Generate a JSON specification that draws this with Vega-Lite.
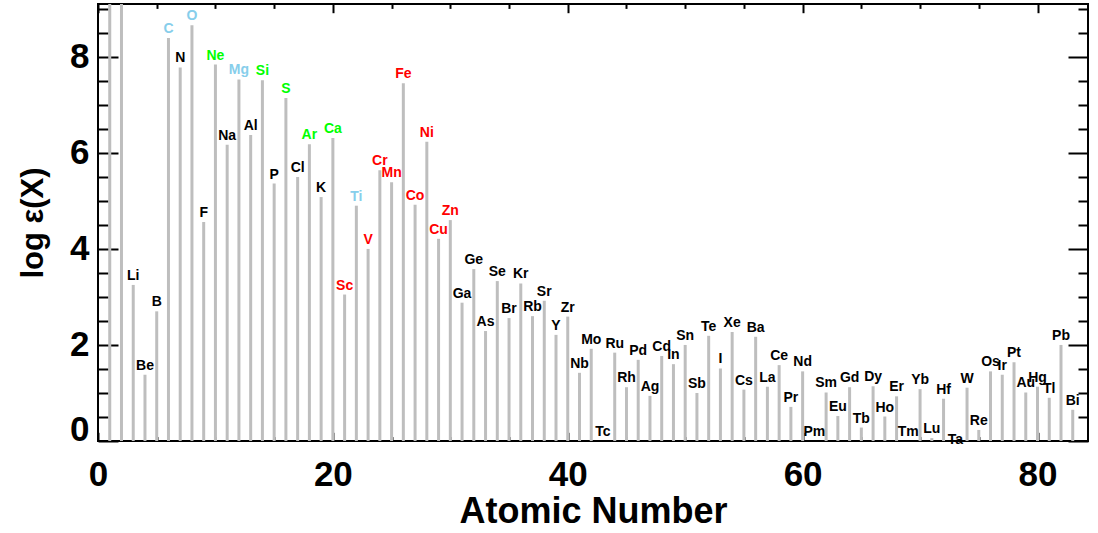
{
  "$schema": "https://vega.github.io/schema/vega-lite/v6.json",
  "width": 990,
  "height": 437,
  "autosize": {"type": "none"},
  "padding": {"left": 98, "top": 4, "right": 10, "bottom": 92},
  "background": "white",
  "config": {
    "view": {"stroke": "black", "strokeWidth": 2},
    "font": "Liberation Sans",
    "axis": {
      "domain": false,
      "grid": false,
      "tickColor": "black",
      "tickWidth": 2,
      "labelFont": "Liberation Sans",
      "labelFontWeight": "bold",
      "labelFontSize": 35,
      "labelColor": "black",
      "titleFont": "Liberation Sans",
      "titleFontWeight": "bold",
      "titleColor": "black"
    }
  },
  "data": {
    "values": [
      {"Z": 1, "el": "H", "logeps": 12.00, "set": "none"},
      {"Z": 2, "el": "He", "logeps": 10.93, "set": "none"},
      {"Z": 3, "el": "Li", "logeps": 3.25, "set": "none"},
      {"Z": 4, "el": "Be", "logeps": 1.38, "set": "none"},
      {"Z": 5, "el": "B", "logeps": 2.70, "set": "none"},
      {"Z": 6, "el": "C", "logeps": 8.39, "set": "a"},
      {"Z": 7, "el": "N", "logeps": 7.78, "set": "none"},
      {"Z": 8, "el": "O", "logeps": 8.66, "set": "a"},
      {"Z": 9, "el": "F", "logeps": 4.56, "set": "none"},
      {"Z": 10, "el": "Ne", "logeps": 7.84, "set": "b"},
      {"Z": 11, "el": "Na", "logeps": 6.17, "set": "none"},
      {"Z": 12, "el": "Mg", "logeps": 7.53, "set": "a"},
      {"Z": 13, "el": "Al", "logeps": 6.37, "set": "none"},
      {"Z": 14, "el": "Si", "logeps": 7.51, "set": "b"},
      {"Z": 15, "el": "P", "logeps": 5.36, "set": "none"},
      {"Z": 16, "el": "S", "logeps": 7.14, "set": "b"},
      {"Z": 17, "el": "Cl", "logeps": 5.50, "set": "none"},
      {"Z": 18, "el": "Ar", "logeps": 6.18, "set": "b"},
      {"Z": 19, "el": "K", "logeps": 5.08, "set": "none"},
      {"Z": 20, "el": "Ca", "logeps": 6.31, "set": "b"},
      {"Z": 21, "el": "Sc", "logeps": 3.05, "set": "fe"},
      {"Z": 22, "el": "Ti", "logeps": 4.90, "set": "a"},
      {"Z": 23, "el": "V", "logeps": 4.00, "set": "fe"},
      {"Z": 24, "el": "Cr", "logeps": 5.64, "set": "fe"},
      {"Z": 25, "el": "Mn", "logeps": 5.39, "set": "fe"},
      {"Z": 26, "el": "Fe", "logeps": 7.45, "set": "fe"},
      {"Z": 27, "el": "Co", "logeps": 4.92, "set": "fe"},
      {"Z": 28, "el": "Ni", "logeps": 6.23, "set": "fe"},
      {"Z": 29, "el": "Cu", "logeps": 4.21, "set": "fe"},
      {"Z": 30, "el": "Zn", "logeps": 4.60, "set": "fe"},
      {"Z": 31, "el": "Ga", "logeps": 2.88, "set": "none"},
      {"Z": 32, "el": "Ge", "logeps": 3.58, "set": "none"},
      {"Z": 33, "el": "As", "logeps": 2.29, "set": "none"},
      {"Z": 34, "el": "Se", "logeps": 3.33, "set": "none"},
      {"Z": 35, "el": "Br", "logeps": 2.56, "set": "none"},
      {"Z": 36, "el": "Kr", "logeps": 3.28, "set": "none"},
      {"Z": 37, "el": "Rb", "logeps": 2.60, "set": "none"},
      {"Z": 38, "el": "Sr", "logeps": 2.92, "set": "none"},
      {"Z": 39, "el": "Y", "logeps": 2.21, "set": "none"},
      {"Z": 40, "el": "Zr", "logeps": 2.59, "set": "none"},
      {"Z": 41, "el": "Nb", "logeps": 1.42, "set": "none"},
      {"Z": 42, "el": "Mo", "logeps": 1.92, "set": "none"},
      {"Z": 43, "el": "Tc", "logeps": 0.00, "set": "none"},
      {"Z": 44, "el": "Ru", "logeps": 1.84, "set": "none"},
      {"Z": 45, "el": "Rh", "logeps": 1.12, "set": "none"},
      {"Z": 46, "el": "Pd", "logeps": 1.69, "set": "none"},
      {"Z": 47, "el": "Ag", "logeps": 0.94, "set": "none"},
      {"Z": 48, "el": "Cd", "logeps": 1.77, "set": "none"},
      {"Z": 49, "el": "In", "logeps": 1.60, "set": "none"},
      {"Z": 50, "el": "Sn", "logeps": 2.00, "set": "none"},
      {"Z": 51, "el": "Sb", "logeps": 1.00, "set": "none"},
      {"Z": 52, "el": "Te", "logeps": 2.19, "set": "none"},
      {"Z": 53, "el": "I", "logeps": 1.51, "set": "none"},
      {"Z": 54, "el": "Xe", "logeps": 2.27, "set": "none"},
      {"Z": 55, "el": "Cs", "logeps": 1.07, "set": "none"},
      {"Z": 56, "el": "Ba", "logeps": 2.17, "set": "none"},
      {"Z": 57, "el": "La", "logeps": 1.13, "set": "none"},
      {"Z": 58, "el": "Ce", "logeps": 1.58, "set": "none"},
      {"Z": 59, "el": "Pr", "logeps": 0.71, "set": "none"},
      {"Z": 60, "el": "Nd", "logeps": 1.45, "set": "none"},
      {"Z": 61, "el": "Pm", "logeps": 0.00, "set": "none"},
      {"Z": 62, "el": "Sm", "logeps": 1.01, "set": "none"},
      {"Z": 63, "el": "Eu", "logeps": 0.52, "set": "none"},
      {"Z": 64, "el": "Gd", "logeps": 1.12, "set": "none"},
      {"Z": 65, "el": "Tb", "logeps": 0.28, "set": "none"},
      {"Z": 66, "el": "Dy", "logeps": 1.14, "set": "none"},
      {"Z": 67, "el": "Ho", "logeps": 0.51, "set": "none"},
      {"Z": 68, "el": "Er", "logeps": 0.93, "set": "none"},
      {"Z": 69, "el": "Tm", "logeps": 0.00, "set": "none"},
      {"Z": 70, "el": "Yb", "logeps": 1.08, "set": "none"},
      {"Z": 71, "el": "Lu", "logeps": 0.06, "set": "none"},
      {"Z": 72, "el": "Hf", "logeps": 0.88, "set": "none"},
      {"Z": 73, "el": "Ta", "logeps": -0.17, "set": "none"},
      {"Z": 74, "el": "W", "logeps": 1.11, "set": "none"},
      {"Z": 75, "el": "Re", "logeps": 0.23, "set": "none"},
      {"Z": 76, "el": "Os", "logeps": 1.45, "set": "none"},
      {"Z": 77, "el": "Ir", "logeps": 1.38, "set": "none"},
      {"Z": 78, "el": "Pt", "logeps": 1.64, "set": "none"},
      {"Z": 79, "el": "Au", "logeps": 1.01, "set": "none"},
      {"Z": 80, "el": "Hg", "logeps": 1.13, "set": "none"},
      {"Z": 81, "el": "Tl", "logeps": 0.90, "set": "none"},
      {"Z": 82, "el": "Pb", "logeps": 2.00, "set": "none"},
      {"Z": 83, "el": "Bi", "logeps": 0.65, "set": "none"}
    ]
  },
  "resolve": {"axis": {"x": "independent", "y": "independent"}},
  "layer": [
    {
      "mark": {"type": "rule", "clip": true, "color": "#bebebe", "strokeWidth": 3},
      "encoding": {
        "x": {
          "field": "Z", "type": "quantitative",
          "scale": {"domain": [0, 84.3], "nice": false, "zero": false},
          "axis": {"orient": "bottom", "values": [0, 20, 40, 60, 80], "tickSize": -8.7,
                   "labelPadding": 24.7, "labelFlush": false, "labelOverlap": false,
                   "title": "Atomic Number", "titleFontSize": 36, "titlePadding": 2}
        },
        "y": {
          "field": "logeps", "type": "quantitative",
          "scale": {"domain": [0, 9.1], "nice": false, "zero": false},
          "axis": {"orient": "left", "values": [0, 2, 4, 6, 8], "tickSize": -20,
                   "labelPadding": 29, "labelFlush": true, "labelFlushOffset": 6, "labelOverlap": false,
                   "title": "log ε(X)", "titleFontSize": 31, "titlePadding": 20}
        },
        "y2": {"datum": 0}
      }
    },
    {
      "transform": [{"filter": "datum.logeps < 9.1"}],
      "mark": {"type": "text", "fontSize": 14, "fontWeight": "bold", "font": "Liberation Sans",
               "baseline": "alphabetic", "align": "center", "dy": -5},
      "encoding": {
        "x": {
          "field": "Z", "type": "quantitative",
          "scale": {"domain": [0, 84.3], "nice": false, "zero": false},
          "axis": {"orient": "top", "values": [0, 20, 40, 60, 80], "tickSize": -8.7, "labels": false, "title": null}
        },
        "y": {
          "field": "logeps", "type": "quantitative",
          "scale": {"domain": [0, 9.1], "nice": false, "zero": false},
          "axis": {"orient": "right", "values": [0, 2, 4, 6, 8], "tickSize": -20, "labels": false, "title": null}
        },
        "text": {"field": "el"},
        "color": {
          "field": "set", "type": "nominal",
          "scale": {"domain": ["none", "a", "b", "fe"], "range": ["#000000", "#87ceeb", "#00ff00", "#ff0000"]},
          "legend": null
        }
      }
    },
    {
      "mark": {"type": "rule", "opacity": 0},
      "encoding": {
        "x": {
          "field": "Z", "type": "quantitative",
          "scale": {"domain": [0, 84.3], "nice": false, "zero": false},
          "axis": {"orient": "bottom", "values": [5, 10, 15, 25, 30, 35, 45, 50, 55, 65, 70, 75], "tickSize": -4.4, "labels": false, "title": null}
        },
        "y": {
          "field": "logeps", "type": "quantitative",
          "scale": {"domain": [0, 9.1], "nice": false, "zero": false},
          "axis": {"orient": "left", "values": [0.5, 1, 1.5, 2.5, 3, 3.5, 4.5, 5, 5.5, 6.5, 7, 7.5, 8.5, 9], "tickSize": -10, "labels": false, "title": null}
        },
        "y2": {"datum": 0}
      }
    },
    {
      "mark": {"type": "rule", "opacity": 0},
      "encoding": {
        "x": {
          "field": "Z", "type": "quantitative",
          "scale": {"domain": [0, 84.3], "nice": false, "zero": false},
          "axis": {"orient": "top", "values": [5, 10, 15, 25, 30, 35, 45, 50, 55, 65, 70, 75], "tickSize": -4.4, "labels": false, "title": null}
        },
        "y": {
          "field": "logeps", "type": "quantitative",
          "scale": {"domain": [0, 9.1], "nice": false, "zero": false},
          "axis": {"orient": "right", "values": [0.5, 1, 1.5, 2.5, 3, 3.5, 4.5, 5, 5.5, 6.5, 7, 7.5, 8.5, 9], "tickSize": -10, "labels": false, "title": null}
        },
        "y2": {"datum": 0}
      }
    }
  ]
}
